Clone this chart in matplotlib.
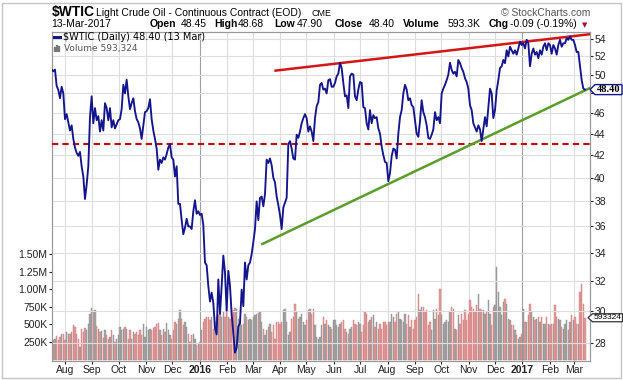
import numpy as np
import pandas as pd
import matplotlib
matplotlib.use('Agg')
import matplotlib.pyplot as plt
import matplotlib.dates as mdates
from matplotlib.patches import Rectangle, Polygon
from matplotlib.lines import Line2D

plt.rcParams['font.family'] = ['Liberation Sans', 'DejaVu Sans']

# $WTIC close, evenly spaced from start to end
start, end = '2015-07-17', '2017-03-13'
price = [
    50.54, 50.36, 50.54, 48.8, 48.36, 47.5, 48.7, 48.0, 45.4, 45.9,
    45.1, 44.3, 44.8, 43.5, 42.7, 42.2, 41.94, 42.3, 41.0, 40.1,
    38.2, 39.4, 41.0, 45.6, 47.7, 45.0, 46.5, 45.3, 45.7, 44.2,
    45.3, 44.3, 47.0, 46.5, 45.3, 46.5, 44.6, 45.3, 44.5, 44.9,
    45.3, 45.4, 46.4, 48.9, 48.0, 49.45, 47.7, 46.4, 47.0, 47.5,
    46.2, 45.4, 45.1, 44.5, 43.5, 44.8, 46.1, 46.2, 46.5, 47.4,
    45.4, 44.3, 43.5, 42.6, 40.7, 41.6, 41.3, 41.8, 41.6, 42.1,
    42.7, 43.0, 41.8, 41.6, 40.1, 41.0, 37.8, 37.8, 36.5, 35.4,
    35.9, 36.6, 36.0, 36.0,
    35.8, 37.2, 38.1, 37.0, 37.2, 36.9, 37.0, 36.1, 33.3, 33.1,
    31.65, 30.6, 31.2, 30.5, 28.9, 28.5, 32.1, 29.8, 31.65, 33.8,
    32.6, 30.0, 32.7, 31.65, 29.8, 28.6, 27.4, 27.7, 29.0, 29.2,
    31.4, 30.3, 33.3, 32.1, 33.1, 33.3, 33.9, 34.8, 35.8, 38.0,
    36.5, 38.3, 38.4, 37.6, 38.6, 41.6, 41.3, 41.7, 41.1, 40.0,
    39.6, 38.4, 37.7, 36.9, 35.8, 37.5, 37.9, 38.3, 43.0, 43.3,
    42.6, 41.7, 41.6, 43.9, 43.6, 44.2, 45.0, 45.5, 45.9, 45.5,
    44.2, 44.7, 44.2, 43.3, 45.5, 46.7, 47.1,
    48.9, 49.1, 48.4, 48.5, 48.0, 49.4, 49.5, 48.7, 48.7, 49.1,
    49.8, 50.1, 51.3, 50.7, 49.1, 47.7, 47.8, 46.5, 49.8, 50.1,
    50.0, 47.7, 47.3, 48.4, 49.2, 49.1, 46.6, 46.5, 45.0, 44.4,
    46.3, 45.0, 45.8, 45.5, 45.6, 44.5, 44.0, 42.8, 42.0, 41.4,
    41.3, 39.7, 40.4, 41.9, 42.6, 42.5, 41.7, 44.0, 45.6, 46.3,
    48.0, 48.9, 48.4, 47.3, 47.5, 46.8, 46.6, 45.3, 44.0, 43.7,
    45.2, 47.3, 46.1, 45.6, 44.8, 43.6, 43.5, 43.9, 44.4, 46.1,
    45.3, 45.6, 45.0, 48.0, 48.5, 48.9, 49.4, 50.0, 51.3, 50.5,
    50.1, 50.3, 49.8, 51.6,
    51.25, 50.7, 50.3, 49.6, 49.2, 48.5, 46.8, 46.3, 45.0, 44.6,
    44.2, 44.8, 44.4, 43.3, 44.4, 45.6, 44.7, 46.6, 48.5, 48.0,
    45.5, 46.3, 48.3, 49.4, 50.7, 50.9, 51.6, 51.25, 52.7, 52.0,
    53.1, 52.7, 52.3, 52.7, 52.2, 52.9, 53.7, 53.3, 53.5, 52.9,
    53.9, 53.5, 50.9, 52.3, 52.9, 52.2, 52.5, 51.8, 52.7, 52.2,
    53.1, 53.5, 52.7, 53.5, 53.3, 52.3, 53.3, 52.9, 52.2, 53.3,
    53.9, 53.1, 53.5, 53.5, 54.1, 53.9, 54.3, 53.9, 53.9, 53.3,
    52.5, 52.5, 50.9, 49.4, 48.5, 48.40,
]

# volume in thousands, same spacing as price
volume_k = [
    274, 274, 298, 336, 274, 322, 369, 369, 274, 393,
    369, 369, 393, 497, 464, 369, 298, 180, 440, 393,
    449, 416, 511, 653, 733, 686, 700, 478, 440, 393,
    402, 307, 416, 345, 298, 322, 416, 345, 251, 298,
    345, 464, 416, 440, 464, 440, 298, 416, 298, 393,
    369, 393, 345, 416, 345, 511, 322, 464, 416, 440,
    416, 449, 464, 511, 520, 416, 345, 440, 393, 520,
    416, 345, 298, 416, 534, 511, 582, 700, 582, 487,
    534, 464, 369, 251, 345, 369, 298, 203, 227, 251,
    416, 534, 582, 605, 605, 558, 605, 440, 534, 605,
    629, 653, 605, 676, 605, 724, 605, 582,
    676, 700, 733, 724, 582, 511, 487, 511, 653, 605,
    558, 582, 558, 605, 629, 653, 667, 676, 534, 440,
    345, 416, 464, 511, 393, 487, 298, 534, 534, 511,
    534, 700, 714, 534, 345, 393, 582, 605, 795, 676,
    582, 605, 653, 534, 487, 558, 700, 724, 653, 724,
    487, 322, 298, 322, 487, 605, 511, 558, 487, 464,
    440, 558, 558, 487, 464, 511, 534, 558, 440, 393,
    369, 440, 464, 558, 511, 487, 534, 511, 393, 487,
    676, 653, 534, 558, 605, 629, 464, 534, 440, 511,
    440, 534, 534, 487, 534, 534, 653, 605, 534, 653,
    676, 582, 558, 534, 653,
    511, 629, 464, 558, 440, 558, 605, 937, 700, 747,
    747, 676, 700, 487, 534, 416, 700, 582, 724, 629,
    1007, 629, 511, 534, 558, 534, 676, 747, 724, 440,
    416, 629, 511, 653, 558, 700, 558, 653, 842, 747,
    724, 676, 771, 937, 724, 700, 700, 653, 676, 842,
    653, 487, 747, 771, 1315, 960, 747, 629, 818, 866,
    795, 582, 558, 487, 487, 416, 345, 298, 322, 369,
    724, 534, 534, 629, 795, 676, 605, 558, 582, 605,
    534, 605, 511, 511, 605, 511, 487, 511, 511, 771,
    605, 582, 558, 464, 440, 511, 558, 416, 534, 629,
    558, 605, 511, 511, 960, 1078, 795, 593.324,
]

# trend lines and support level
resist_dates = ['2016-03-27 00:00', '2017-03-18 16:00']
resist_vals = [50.43, 54.56]
support_dates = ['2016-03-12 00:00', '2017-03-18 16:00']
support_vals = [34.66, 48.57]
pivot_level = 43.0

price_ticks = list(range(28, 56, 2))
vol_ticks = [250, 500, 750, 1000, 1250, 1500]
vol_labels = ['250K', '500K', '750K', '1.00M', '1.25M', '1.50M']
last_close = 48.40
last_volume = 593.324

price = np.array(price)
volume_k = np.array(volume_k)
dates = pd.date_range(start, end, periods=len(price))
vdates = pd.date_range(start, end, periods=len(volume_k))

W, H = 623, 380
def fx(x):
    return x / W
def fy(y):
    return 1 - y / H

fig = plt.figure(figsize=(W / 100, H / 100), dpi=100)
L, R, T, B = 51.5, 590, 31.5, 361
ax = fig.add_axes([fx(L), fy(B), (R - L) / W, (B - T) / H])
ax2 = ax.twinx()

# volume bars (down days red, up days gray)
n = min(len(price), len(volume_k))
up = np.r_[True, np.diff(price[:n]) >= 0]
face = np.where(up, '#a6a6a6', '#e39c9c')
edge = np.where(up, '#8c8c8c', '#d07878')
ax.bar(vdates[:n], volume_k[:n], width=1.6, color=face, edgecolor=edge,
       linewidth=0.3, zorder=2)
ax.set_ylim(-21, 4659)
ax.set_yticks(vol_ticks)
ax.set_yticklabels(vol_labels)
ax.tick_params(axis='y', labelsize=7.5, length=2, pad=1, colors='#222222')

# month grid
months = pd.date_range('2015-08-01', '2017-03-01', freq='MS')
for m in months:
    ax.axvline(m, color='#a0a0a0' if m.month == 1 else '#dcdcdc', lw=0.8, zorder=0)
ax.set_xticks(months)
ax.set_xticklabels([str(m.year) if m.month == 1 else m.strftime('%b') for m in months])
for lab, m in zip(ax.get_xticklabels(), months):
    if m.month == 1:
        lab.set_fontweight('bold')
        lab.set_fontsize(8.5)
ax.tick_params(axis='x', labelsize=7.5, length=2, pad=1, colors='#222222')
ax.set_xlim(mdates.date2num(pd.Timestamp('2015-07-16 20:00')),
            mdates.date2num(pd.Timestamp('2017-03-18 16:00')))

# price (log scale); the 48 label sits under the last-close flag
ax2.set_yscale('log')
ax2.set_ylim(26.91, 54.88)
ax2.yaxis.set_major_locator(matplotlib.ticker.FixedLocator(price_ticks))
ax2.yaxis.set_minor_locator(matplotlib.ticker.NullLocator())
ax2.yaxis.set_major_formatter(matplotlib.ticker.FuncFormatter(
    lambda v, p: '' if round(v) == 48 else f'{v:.0f}'))
ax2.tick_params(axis='y', labelsize=7.5, length=2, pad=1, colors='#222222')
for t in price_ticks:
    ax2.axhline(t, color='#dedede', lw=0.8, zorder=0)

ax2.axhline(pivot_level, color='#cc0000', lw=1.5, dashes=(3, 2), zorder=3)
ax2.plot(pd.to_datetime(resist_dates), resist_vals, color='#d41515', lw=1.8, zorder=3)
ax2.plot(pd.to_datetime(support_dates), support_vals, color='#5a9e2a', lw=1.8, zorder=3)
ax2.plot(dates, price, color='#14148c', lw=1.35, zorder=4)

for a in (ax, ax2):
    for s in a.spines.values():
        s.set_color('#999999')
        s.set_linewidth(0.8)

# header
fig.text(fx(51.5), fy(16), '$WTIC', fontsize=10, fontweight='bold', va='baseline')
fig.text(fx(95.5), fy(16), 'Light Crude Oil - Continuous Contract (EOD)', fontsize=7.5, va='baseline')
fig.text(fx(311), fy(16), 'CME', fontsize=6.5, va='baseline')
fig.text(fx(501), fy(16), '\u00a9 StockCharts.com', fontsize=7.5, color='#555555', va='baseline')
fig.text(fx(51.5), fy(27), '13-Mar-2017', fontsize=7.5, va='baseline')
row2 = [(150, 'Open', True), (181, '48.45', False), (214.5, 'High', True), (238, '48.68', False),
        (274, 'Low', True), (297, '47.90', False), (334.5, 'Close', True), (368.5, '48.40', False),
        (403, 'Volume', True), (448, '593.3K', False), (489, 'Chg', True), (510, '-0.09 (-0.19%)', False)]
for x, s, b in row2:
    fig.text(fx(x), fy(27), s, fontsize=7.5, fontweight='bold' if b else 'normal', va='baseline')
fig.text(fx(582), fy(27), '\u25bc', fontsize=5, color='#b01030', va='baseline', family='DejaVu Sans')

# legend inside the plot
fig.add_artist(Line2D([fx(54), fx(60)], [fy(37), fy(37)], color='#14148c', lw=2.2,
                      transform=fig.transFigure))
fig.text(fx(63), fy(40.5), '$WTIC (Daily) 48.40 (13 Mar)', fontsize=7, va='baseline',
         family='DejaVu Sans')
for i, h in enumerate([4, 6, 5]):
    fig.add_artist(Rectangle((fx(53.5 + i * 2.2), fy(51)), 1.6 / W, h / H, color='#777777',
                             transform=fig.transFigure))
fig.text(fx(63.5), fy(51), 'Volume 593,324', fontsize=6.5, color='#555555', va='baseline',
         family='DejaVu Sans')

# right-hand value flags
yc = ax2.transData.transform((0, last_close))[1] / H
fig.add_artist(Polygon([(fx(590), yc), (fx(595), yc + 5 / H), (fx(622), yc + 5 / H),
                        (fx(622), yc - 5 / H), (fx(595), yc - 5 / H)], closed=True,
                       fc='white', ec='#14148c', lw=1, transform=fig.transFigure, zorder=5))
fig.text(fx(608.5), yc, '48.40', fontsize=7.5, fontweight='bold', family='Liberation Serif',
         ha='center', va='center', zorder=6)
yv = ax.transData.transform((0, last_volume))[1] / H
fig.add_artist(Polygon([(fx(588), yv), (fx(592.5), yv + 4 / H), (fx(622.5), yv + 4 / H),
                        (fx(622.5), yv - 4 / H), (fx(592.5), yv - 4 / H)], closed=True,
                       fc='white', ec='#333333', lw=0.9, transform=fig.transFigure, zorder=5))
fig.text(fx(593.5), yv, '593324', fontsize=6, ha='left', va='center', zorder=6)

# outer frame
fig.add_artist(Rectangle((fx(1.5), fy(377.5)), 619 / W, 375 / H, fill=False, ec='#c4c4c4',
                         lw=1, transform=fig.transFigure))

fig.savefig('out.png', dpi=100)
